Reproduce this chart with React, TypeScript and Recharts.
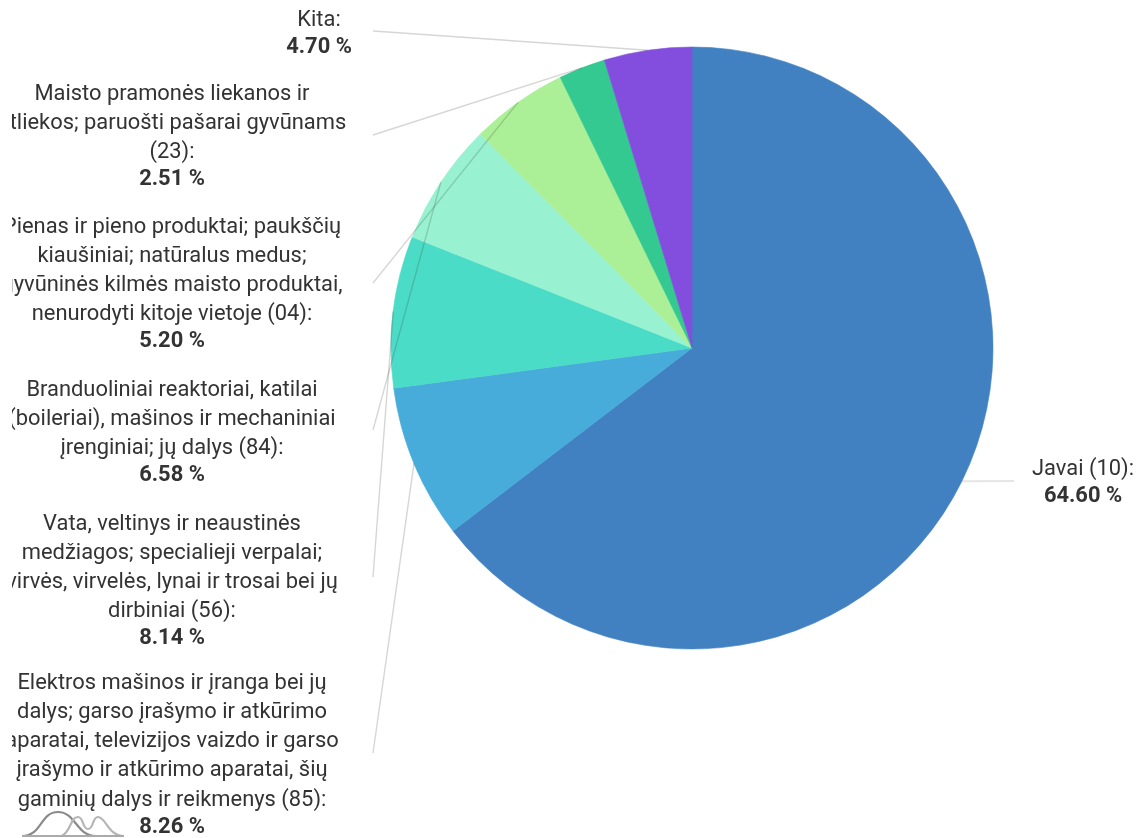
import React from "react";
import { PieChart, Pie, Cell } from "recharts";

const names = ["Javai (10)", "Elektros", "Vata", "Branduoliniai", "Pienas", "Maisto", "Kita"];
const values = [64.6, 8.26, 8.14, 6.58, 5.2, 2.51, 4.7];
const percentLabels = ["64.60 %", "8.26 %", "8.14 %", "6.58 %", "5.20 %", "2.51 %", "4.70 %"];
const colors = ["#4181c2", "#48acdb", "#4bdcc7", "#98f2d2", "#abf097", "#33c991", "#834dde"];
const textLines = [
  ["Javai (10):"],
  ["Elektros mašinos ir įranga bei jų", "dalys; garso įrašymo ir atkūrimo", "aparatai, televizijos vaizdo ir garso", "įrašymo ir atkūrimo aparatai, šių", "gaminių dalys ir reikmenys (85):"],
  ["Vata, veltinys ir neaustinės", "medžiagos; specialieji verpalai;", "virvės, virvelės, lynai ir trosai bei jų", "dirbiniai (56):"],
  ["Branduoliniai reaktoriai, katilai", "(boileriai), mašinos ir mechaniniai", "įrenginiai; jų dalys (84):"],
  ["Pienas ir pieno produktai; paukščių", "kiaušiniai; natūralus medus;", "gyvūninės kilmės maisto produktai,", "nenurodyti kitoje vietoje (04):"],
  ["Maisto pramonės liekanos ir", "atliekos; paruošti pašarai gyvūnams", "(23):"],
  ["Kita:"],
];

const data = names.map((name, i) => ({ name, value: values[i] }));

// layout of the outside labels, one entry per slice
const labelX = [1083, 172, 172, 172, 172, 172, 319];
const labelTop = [469, 683, 524, 390, 227, 94, 20];
const lineEndX = [1014, 373, 373, 373, 373, 373, 373];
const lineEndY = [481, 753, 577, 430, 283, 135, 31];
const lineStep = 29.2;
const boldGap = 27;

const RAD = Math.PI / 180;

function renderLabelLine(props: any) {
  const { cx, cy, midAngle, outerRadius, index } = props;
  const sx = cx + outerRadius * Math.cos(-midAngle * RAD);
  const sy = cy + outerRadius * Math.sin(-midAngle * RAD);
  return (
    <line
      x1={sx}
      y1={sy}
      x2={lineEndX[index]}
      y2={lineEndY[index]}
      stroke={index === 0 ? "#a0a0a0" : "#333333"}
      strokeOpacity={index === 0 ? 0.28 : 0.2}
      strokeWidth={index === 0 ? 2 : 1.4}
    />
  );
}

function renderLabel(props: any) {
  const { index } = props;
  const lines = textLines[index];
  const x = labelX[index];
  const top = labelTop[index];
  const boldY = top + (lines.length - 1) * lineStep + boldGap;
  return (
    <g clipPath="url(#leftClip)" style={{ fontFamily: "Roboto, sans-serif", fontSize: 21.9 }}>
      {lines.map((t, i) => (
        <text key={i} x={x} y={top + i * lineStep} textAnchor="middle" dominantBaseline="middle" fill="#333333">
          {t}
        </text>
      ))}
      <text x={x} y={boldY} textAnchor="middle" dominantBaseline="middle" fill="#333333" fontWeight={700}>
        {percentLabels[index]}
      </text>
    </g>
  );
}

export default function App() {
  return (
    <div style={{ position: "absolute", left: 0, top: 0, width: 1137, height: 838, overflow: "hidden", background: "#fff" }}>
      <div style={{ filter: "blur(0.7px)", width: 1137, height: 838 }}>
        <PieChart width={1137} height={838} margin={{ top: 0, right: 0, bottom: 0, left: 0 }}>
          <defs>
            <clipPath id="leftClip">
              <rect x={12} y={0} width={1125} height={838} />
            </clipPath>
          </defs>
          <Pie
            data={data}
            dataKey="value"
            nameKey="name"
            cx={692}
            cy={348}
            innerRadius={0}
            outerRadius={301}
            startAngle={90}
            endAngle={-270}
            isAnimationActive={false}
            label={renderLabel}
            labelLine={renderLabelLine}
          >
            {data.map((d, i) => (
              <Cell key={d.name} fill={colors[i]} stroke={colors[i]} strokeWidth={0.6} />
            ))}
          </Pie>
        </PieChart>
        <svg width={130} height={38} style={{ position: "absolute", left: 10, top: 800, filter: "blur(0.5px)" }} fill="none">
          <path d="M12 36 C32 36 30 12 48 12 C66 12 66 36 86 36" stroke="#8a8a8a" strokeWidth={2.2} />
          <path d="M52 36 C62 30 60 17 68 17 C74 17 72 29 78 29 C84 29 82 17 88 17 C96 17 98 36 114 36" stroke="#b5b5b5" strokeWidth={2.2} />
          <path d="M12 36 H114" stroke="#aaaaaa" strokeWidth={2.2} />
        </svg>
      </div>
    </div>
  );
}
